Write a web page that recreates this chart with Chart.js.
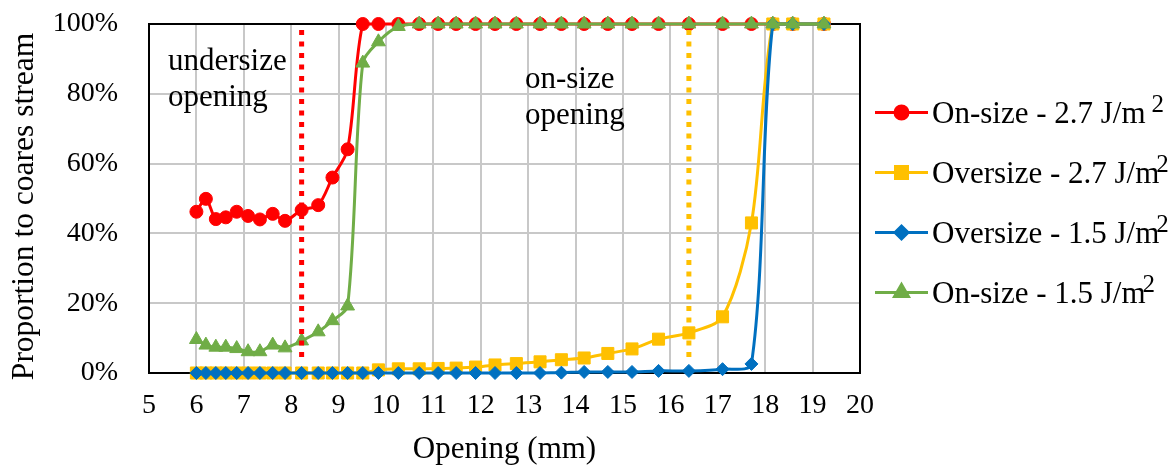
<!DOCTYPE html>
<html>
<head>
<meta charset="utf-8">
<title>Proportion to coares stream</title>
<script src="https://cdn.jsdelivr.net/npm/chart.js@4.4.0/dist/chart.umd.min.js"></script>
<style>
    html, body { margin: 0; padding: 0; background: #ffffff; }
    #chartBox { position: relative; width: 1176px; height: 465px; }
</style>
</head>
<body>
<div id="chartBox"><canvas id="screenChart"></canvas></div>
<script>
// opening sizes (mm), shared by all series
const openingMm = [6.0, 6.2, 6.41, 6.62, 6.85, 7.09, 7.34, 7.61, 7.87, 8.22, 8.57, 8.87, 9.19, 9.51,
    9.84, 10.26, 10.7, 11.1, 11.48, 11.89, 12.3, 12.75, 13.25, 13.7, 14.18, 14.68, 15.19, 15.75,
    16.39, 17.1, 17.71, 18.16, 18.58, 19.24];

// proportion to coarse stream (%)
const onSize27 = [46.2, 49.9, 44.1, 44.6, 46.2, 45.0, 44.0, 45.6, 43.6, 46.7, 48.1, 56.0, 64.1, 100,
    100, 100, 100, 100, 100, 100, 100, 100, 100, 100, 100, 100, 100, 100,
    100, 100, 100, 100, 100, 100];
const overSize27 = [0, 0, 0, 0, 0, 0, 0, 0, 0, 0, 0, 0, 0, 0,
    0.9, 1.2, 1.2, 1.3, 1.4, 1.7, 2.3, 2.7, 3.2, 3.8, 4.3, 5.6, 6.9, 9.7,
    11.5, 16.1, 43.0, 100, 100, 100];
const overSize15 = [0, 0, 0, 0, 0, 0, 0, 0, 0, 0, 0, 0, 0, 0,
    0, 0, 0, 0, 0, 0, 0, 0, 0, 0.1, 0.3, 0.3, 0.3, 0.6,
    0.6, 1.1, 2.6, 100, 100, 100];
const onSize15 = [9.6, 8.0, 7.4, 7.4, 7.0, 6.1, 6.1, 8.0, 7.2, 9.2, 11.8, 15.0, 19.2, 88.8,
    94.9, 99.3, 100, 100, 100, 100, 100, 100, 100, 100, 100, 100, 100, 100,
    100, 100, 100, 100, 100, 100];

const seriesLabels = ['On-size - 2.7 J/m', 'Oversize - 2.7 J/m', 'Oversize - 1.5 J/m', 'On-size - 1.5 J/m'];
const seriesValues = [onSize27, overSize27, overSize15, onSize15];

// dotted limit lines (opening mm, and their y extent in %)
const undersizeLimit = [8.22, 8.22];
const onsizeLimit = [16.39, 16.39];
const limitSpan = [4.6, 98.5];

// axis ticks
const xTickValues = [5, 6, 7, 8, 9, 10, 11, 12, 13, 14, 15, 16, 17, 18, 19, 20];
const xTickLabels = ['5', '6', '7', '8', '9', '10', '11', '12', '13', '14', '15', '16', '17', '18', '19', '20'];
const yTickValues = [0, 20, 40, 60, 80, 100];
const yTickLabels = ['0%', '20%', '40%', '60%', '80%', '100%'];
const yAxisTitle = 'Proportion to coares stream';

// styles
const serifFont = '"Liberation Serif", "Times New Roman", serif';
const seriesStyle = [
    { color: '#ff0000', point: 'circle', radius: 6.5, order: 4 },
    { color: '#ffc000', point: 'rect', radius: 8.5, order: 3 },
    { color: '#0070c0', point: 'rectRot', radius: 6.5, order: 2 },
    { color: '#70ad47', point: 'triangle', radius: 8, order: 1 }
];

// text notes inside the plot (x in mm, y in % for the first baseline)
const plotNotes = [
    { lines: ['undersize', 'opening'], x: 5.4, y: 86.8 },
    { lines: ['on-size', 'opening'], x: 12.93, y: 81.6 }
];

let screenChart = null;

function toPoints(xs, ys) {
    return xs.map((x, i) => ({ x: x, y: ys[i] }));
}

// frame around the plot area
const framePlugin = {
    id: 'plotFrame',
    beforeDatasetsDraw(chart) {
        const { ctx, chartArea } = chart;
        ctx.save();
        ctx.strokeStyle = '#000000';
        ctx.lineWidth = 2;
        ctx.strokeRect(chartArea.left, chartArea.top, chartArea.right - chartArea.left, chartArea.bottom - chartArea.top);
        ctx.restore();
    }
};

// "undersize opening" / "on-size opening" and the rotated y title
const notesPlugin = {
    id: 'plotNotes',
    afterDatasetsDraw(chart) {
        const { ctx, scales, chartArea } = chart;
        ctx.save();
        ctx.font = '31px ' + serifFont;
        ctx.fillStyle = '#000000';
        ctx.textAlign = 'left';
        ctx.textBaseline = 'alphabetic';
        plotNotes.forEach(note => {
            const px = scales.x.getPixelForValue(note.x);
            const py = scales.y.getPixelForValue(note.y);
            note.lines.forEach((line, i) => {
                ctx.fillText(line, px, py + i * 36);
            });
        });

        // y title, a bit below the plot middle like the original
        ctx.translate(25, (chartArea.top + chartArea.bottom) / 2 + 8);
        ctx.rotate(-Math.PI / 2);
        ctx.font = '31.5px ' + serifFont;
        ctx.textAlign = 'center';
        ctx.textBaseline = 'middle';
        ctx.fillText(yAxisTitle, 0, 0);
        ctx.restore();
    }
};

// legend on the right: line + marker + label with superscript 2
const legendPlugin = {
    id: 'sideLegend',
    afterDraw(chart) {
        const { ctx, chartArea } = chart;
        const midY = (chartArea.top + chartArea.bottom) / 2 + 4;
        const x0 = chartArea.right + 15;
        ctx.save();
        seriesLabels.forEach((label, i) => {
            const st = seriesStyle[i];
            const y = midY + (i - 1.5) * 60;
            ctx.strokeStyle = st.color;
            ctx.fillStyle = st.color;
            ctx.lineWidth = 3;
            ctx.beginPath();
            ctx.moveTo(x0, y);
            ctx.lineTo(x0 + 53, y);
            ctx.stroke();
            Chart.helpers.drawPoint(ctx, { pointStyle: st.point, radius: st.radius, borderWidth: 1, rotation: 0 }, x0 + 26.5, y);

            ctx.fillStyle = '#000000';
            ctx.font = '31px ' + serifFont;
            ctx.textBaseline = 'alphabetic';
            ctx.fillText(label, x0 + 57, y + 10);
            const w = ctx.measureText(label).width;
            ctx.font = '25px ' + serifFont;
            ctx.fillText('2', x0 + 57 + w + (i === 0 ? 6 : -3), y - 1);
        });
        ctx.restore();
    }
};

function initScreenChart() {
    const ctx = document.getElementById('screenChart').getContext('2d');

    const datasets = seriesLabels.map((label, i) => ({
        label: label,
        data: toPoints(openingMm, seriesValues[i]),
        borderColor: seriesStyle[i].color,
        backgroundColor: seriesStyle[i].color,
        pointStyle: seriesStyle[i].point,
        pointRadius: seriesStyle[i].radius,
        pointBorderWidth: 1,
        borderWidth: 3,
        tension: 0.3,
        order: seriesStyle[i].order,
        clip: false
    }));

    datasets.push({
        label: 'undersize limit',
        data: toPoints(undersizeLimit, limitSpan),
        borderColor: '#ff0000',
        borderWidth: 5,
        borderDash: [5, 6.5],
        pointRadius: 0,
        tension: 0,
        order: 0
    });
    datasets.push({
        label: 'on-size limit',
        data: toPoints(onsizeLimit, limitSpan),
        borderColor: '#ffc000',
        borderWidth: 5,
        borderDash: [5, 6.5],
        pointRadius: 0,
        tension: 0,
        order: 0
    });

    screenChart = new Chart(ctx, {
        type: 'line',
        data: { datasets: datasets },
        options: {
            responsive: true,
            maintainAspectRatio: false,
            animation: false,
            layout: { padding: { left: 0, top: 24, right: 316, bottom: 0 } },
            plugins: {
                legend: { display: false },
                tooltip: { enabled: false }
            },
            scales: {
                x: {
                    type: 'linear',
                    min: 5,
                    max: 20,
                    afterBuildTicks: scale => { scale.ticks = xTickValues.map(v => ({ value: v })); },
                    afterFit: scale => { scale.height = 92; },
                    grid: { color: '#c8c8c8', lineWidth: 2, drawTicks: false },
                    border: { display: false },
                    ticks: {
                        padding: 16,
                        color: '#000000',
                        font: { family: serifFont, size: 28 },
                        maxRotation: 0,
                        autoSkip: false,
                        callback: (v, i) => xTickLabels[i]
                    },
                    title: {
                        display: true,
                        text: 'Opening (mm)',
                        color: '#000000',
                        font: { family: serifFont, size: 31, lineHeight: 1.0 },
                        padding: { top: 0, bottom: 0 }
                    }
                },
                y: {
                    min: 0,
                    max: 100,
                    afterBuildTicks: scale => { scale.ticks = yTickValues.map(v => ({ value: v })); },
                    afterFit: scale => {
                        scale.width = 149;
                        // tick padding would otherwise push the plot top down
                        scale.paddingTop = 0;
                        scale.paddingBottom = 0;
                    },
                    grid: { color: '#c8c8c8', lineWidth: 2, drawTicks: false },
                    border: { display: false },
                    ticks: {
                        padding: 31,
                        color: '#000000',
                        font: { family: serifFont, size: 28 },
                        callback: (v, i) => yTickLabels[i]
                    },
                    title: { display: false }
                }
            }
        },
        plugins: [framePlugin, notesPlugin, legendPlugin]
    });
}

document.addEventListener('DOMContentLoaded', function() {
    initScreenChart();
});
</script>
</body>
</html>
